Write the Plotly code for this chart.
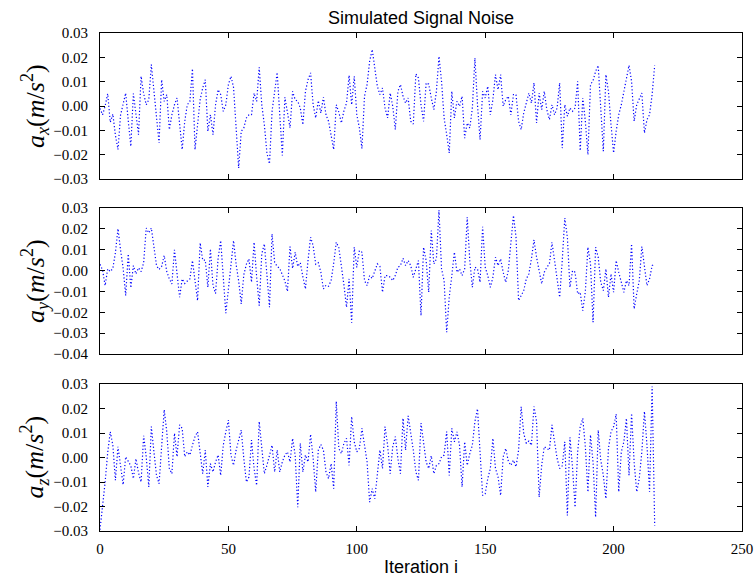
import plotly.graph_objects as go

# Acceleration noise samples (m/s^2), one value per iteration
ax_noise = [
    -0.0010, -0.0036, 0.0000, 0.0051, -0.0067, -0.0033, -0.0120, -0.0179, -0.0038, 0.0005,
    0.0053, -0.0060, -0.0166, 0.0051, -0.0040, -0.0118, 0.0122, 0.0051, 0.0005, 0.0026,
    0.0170, 0.0060, -0.0063, -0.0152, 0.0108, 0.0019, 0.0047, -0.0097, -0.0036, 0.0005,
    0.0033, -0.0063, -0.0179, -0.0063, 0.0005, 0.0019, 0.0153, -0.0179, -0.0077, 0.0026,
    0.0074, 0.0108, -0.0104, -0.0036, -0.0118, 0.0005, 0.0067, 0.0047, -0.0022, 0.0005,
    0.0088, 0.0122, 0.0077, -0.0077, -0.0255, -0.0104, -0.0090, -0.0049, -0.0036, -0.0036,
    0.0053, 0.0019, 0.0159, 0.0005, -0.0077, -0.0193, -0.0238, -0.0022, 0.0060, 0.0138,
    -0.0036, -0.0203, 0.0036, -0.0036, -0.0090, 0.0060, 0.0026, 0.0019, -0.0008, -0.0077,
    0.0060, 0.0108, 0.0136, 0.0005, -0.0049, 0.0022, -0.0029, 0.0036, -0.0036, -0.0063,
    -0.0118, -0.0179, 0.0005, -0.0025, -0.0070, -0.0019, 0.0012, 0.0126, 0.0005, 0.0122,
    -0.0036, -0.0090, -0.0175, 0.0040, 0.0088, 0.0184, 0.0232, 0.0163, 0.0081, 0.0047,
    0.0074, -0.0008, -0.0049, 0.0053, -0.0001, -0.0097, 0.0060, 0.0088, 0.0040, 0.0012,
    0.0033, -0.0063, -0.0074, 0.0132, 0.0115, 0.0005, -0.0063, 0.0095, 0.0090, 0.0033,
    -0.0015, 0.0060, 0.0204, 0.0101, -0.0049, -0.0118, -0.0193, 0.0060, -0.0049, 0.0019,
    -0.0001, 0.0040, -0.0132, -0.0070, -0.0090, -0.0008, 0.0197, 0.0005, -0.0138, 0.0060,
    0.0033, 0.0081, -0.0036, 0.0026, 0.0129, 0.0067, 0.0129, -0.0001, 0.0026, 0.0040,
    -0.0036, 0.0047, 0.0047, -0.0063, -0.0097, -0.0029, 0.0019, 0.0053, 0.0012, 0.0095,
    -0.0070, 0.0053, -0.0015, 0.0060, -0.0015, -0.0056, 0.0005, -0.0036, -0.0008, 0.0095,
    -0.0173, 0.0005, -0.0042, -0.0008, -0.0022, -0.0008, 0.0101, -0.0184, 0.0033, -0.0063,
    -0.0200, 0.0088, 0.0104, 0.0142, 0.0167, 0.0005, -0.0186, 0.0129, 0.0060, -0.0077,
    -0.0193, -0.0104, -0.0036, 0.0005, 0.0060, 0.0122, 0.0167, 0.0101, -0.0063, 0.0005,
    0.0026, 0.0053, -0.0111, -0.0056, -0.0036, 0.0047, 0.0167,
]

ay_noise = [
    0.0030, 0.0003, -0.0072, 0.0008, -0.0005, 0.0010, 0.0086, 0.0201, 0.0100, 0.0013,
    -0.0120, 0.0080, -0.0083, 0.0024, -0.0016, 0.0013, -0.0005, 0.0038, 0.0204, 0.0180,
    0.0204, 0.0110, 0.0024, 0.0005, 0.0020, 0.0072, -0.0005, -0.0040, -0.0064, 0.0099,
    -0.0032, -0.0128, -0.0040, -0.0062, -0.0050, -0.0040, 0.0048, -0.0040, -0.0144, 0.0133,
    0.0050, 0.0050, -0.0080, 0.0104, -0.0072, -0.0110, 0.0060, 0.0144, -0.0040, -0.0204,
    -0.0090, 0.0030, 0.0144, 0.0030, -0.0050, -0.0160, -0.0020, 0.0030, 0.0056, -0.0056,
    0.0136, -0.0030, -0.0168, 0.0080, 0.0128, -0.0020, -0.0176, 0.0176, 0.0040, 0.0020,
    0.0010, -0.0020, -0.0050, -0.0100, 0.0115, 0.0010, 0.0088, 0.0020, 0.0038, -0.0030,
    -0.0088, 0.0048, 0.0160, 0.0120, 0.0030, 0.0038, -0.0008, -0.0088, -0.0070, -0.0075,
    -0.0048, 0.0035, 0.0136, 0.0110, 0.0030, -0.0070, -0.0176, -0.0040, -0.0250, 0.0112,
    0.0015, 0.0096, 0.0088, -0.0048, -0.0072, -0.0024, -0.0038, 0.0000, 0.0032, 0.0020,
    -0.0104, -0.0024, -0.0024, -0.0032, -0.0048, -0.0024, 0.0016, 0.0024, 0.0059, 0.0024,
    0.0048, 0.0024, -0.0032, 0.0008, 0.0048, -0.0216, 0.0112, 0.0048, -0.0104, 0.0192,
    0.0032, 0.0056, 0.0290, 0.0008, -0.0048, -0.0296, -0.0128, -0.0024, 0.0088, -0.0008,
    0.0008, -0.0024, 0.0008, 0.0256, 0.0048, -0.0080, 0.0016, 0.0008, -0.0056, 0.0210,
    0.0016, -0.0024, -0.0080, -0.0032, 0.0064, 0.0024, 0.0056, -0.0008, -0.0056, 0.0000,
    0.0144, 0.0264, 0.0160, -0.0144, -0.0120, -0.0096, -0.0040, -0.0016, 0.0056, 0.0147,
    0.0064, 0.0008, -0.0064, -0.0008, 0.0016, 0.0032, 0.0136, 0.0048, -0.0050, -0.0128,
    0.0048, 0.0252, 0.0160, -0.0080, 0.0000, -0.0008, -0.0112, -0.0104, -0.0192, -0.0100,
    0.0112, 0.0032, -0.0248, 0.0112, 0.0064, -0.0056, -0.0096, 0.0008, -0.0128, -0.0016,
    -0.0104, 0.0048, -0.0008, -0.0064, -0.0104, -0.0048, -0.0072, 0.0128, -0.0184, -0.0112,
    -0.0048, 0.0115, 0.0032, -0.0072, -0.0040, 0.0024, 0.0032,
]

az_noise = [
    -0.0295, -0.0200, -0.0100, 0.0020, 0.0105, 0.0050, -0.0093, 0.0044, -0.0032, -0.0111,
    0.0003, -0.0018, -0.0034, -0.0086, -0.0005, -0.0062, -0.0100, 0.0089, 0.0003, -0.0120,
    0.0126, 0.0023, -0.0073, -0.0107, 0.0050, 0.0195, 0.0105, -0.0045, -0.0066, 0.0099,
    0.0003, 0.0133, 0.0119, 0.0003, 0.0023, 0.0010, 0.0050, 0.0085, 0.0105, 0.0030,
    -0.0066, 0.0030, -0.0120, -0.0025, -0.0059, -0.0018, 0.0010, -0.0073, 0.0050, 0.0105,
    0.0153, 0.0010, -0.0032, 0.0030, 0.0071, 0.0112, -0.0004, -0.0100, -0.0080, 0.0071,
    -0.0045, -0.0114, 0.0147, 0.0023, -0.0066, -0.0032, 0.0010, 0.0050, -0.0059, 0.0030,
    -0.0059, -0.0018, 0.0010, 0.0023, -0.0018, 0.0078, 0.0010, -0.0203, 0.0058, -0.0059,
    0.0010, -0.0018, 0.0095, -0.0004, -0.0141, 0.0030, 0.0053, 0.0030, -0.0059, -0.0086,
    -0.0025, -0.0127, 0.0229, 0.0037, 0.0016, 0.0058, 0.0078, -0.0032, 0.0167, 0.0064,
    0.0023, 0.0037, 0.0119, 0.0058, -0.0018, -0.0182, -0.0127, -0.0168, -0.0073, 0.0030,
    -0.0045, 0.0126, 0.0050, -0.0066, 0.0044, 0.0085, -0.0004, -0.0066, 0.0160, 0.0030,
    0.0170, 0.0105, 0.0030, -0.0059, -0.0093, 0.0140, 0.0064, -0.0018, -0.0045, 0.0007,
    -0.0066, -0.0032, -0.0025, 0.0003, 0.0010, 0.0106, -0.0073, 0.0119, 0.0064, 0.0105,
    0.0050, -0.0120, 0.0064, -0.0032, 0.0016, 0.0050, 0.0147, 0.0199, 0.0023, -0.0155,
    -0.0148, -0.0086, -0.0045, 0.0078, -0.0045, -0.0079, -0.0155, 0.0003, 0.0037, -0.0015,
    -0.0032, -0.0011, -0.0038, 0.0030, 0.0208, 0.0099, 0.0058, 0.0067, 0.0050, 0.0208,
    0.0147, -0.0162, -0.0032, 0.0044, 0.0037, 0.0030, 0.0133, 0.0064, -0.0004, -0.0045,
    -0.0034, 0.0064, -0.0237, 0.0082, -0.0040, -0.0203, 0.0023, 0.0126, 0.0160, 0.0044,
    -0.0141, 0.0092, -0.0020, -0.0244, 0.0112, -0.0010, -0.0073, -0.0168, 0.0037, 0.0105,
    0.0126, 0.0177, -0.0140, 0.0023, 0.0064, 0.0160, -0.0073, 0.0180, -0.0020, -0.0140,
    -0.0086, 0.0023, 0.0188, 0.0050, -0.0140, 0.0290, -0.0278,
]

iterations = list(range(len(ax_noise)))

y_labels = [
    "<i>a</i><sub><i>x</i></sub>(<i>m</i>/<i>s</i><sup>2</sup>)",
    "<i>a</i><sub><i>y</i></sub>(<i>m</i>/<i>s</i><sup>2</sup>)",
    "<i>a</i><sub><i>z</i></sub>(<i>m</i>/<i>s</i><sup>2</sup>)",
]
y_ranges = [(-0.03, 0.03), (-0.04, 0.03), (-0.03, 0.03)]
x_ticks = [0, 50, 100, 150, 200, 250]

W, H = 756, 579
ML, MR, MT, MB = 100, 14, 33, 48
plot_h = H - MT - MB

def dom(top_px, bot_px):
    return [(H - MB - bot_px) / plot_h, (H - MB - top_px) / plot_h]

domains = [dom(33, 179), dom(208, 354), dom(384, 531)]

tick_font = dict(family="Liberation Serif, DejaVu Serif, serif", size=15, color="black")

fig = go.Figure()
series = [ax_noise, ay_noise, az_noise]
layout = {}
annotations = []
for k, vals in enumerate(series):
    n = "" if k == 0 else str(k + 1)
    fig.add_trace(go.Scatter(
        x=iterations, y=vals, mode="lines",
        line=dict(color="#0000ff", width=1.2, dash="1.2px,2.2px"),
        xaxis="x" + n, yaxis="y" + n, showlegend=False,
    ))
    layout["xaxis" + n] = dict(
        domain=[0, 1], anchor="y" + n, range=[0, 250],
        tickvals=x_ticks, showticklabels=(k == 2),
        ticks="inside", ticklen=5, tickwidth=1, tickcolor="black",
        showline=True, linecolor="black", linewidth=1, mirror="ticks",
        showgrid=False, zeroline=False, tickfont=tick_font,
        ticklabelstandoff=4, automargin=False,
    )
    lo, hi = y_ranges[k]
    layout["yaxis" + n] = dict(
        domain=domains[k], anchor="x" + n, range=[lo, hi],
        dtick=0.01, tick0=0, tickformat=".2f",
        ticks="inside", ticklen=5, tickwidth=1, tickcolor="black",
        showline=True, linecolor="black", linewidth=1, mirror="ticks",
        showgrid=False, zeroline=False, tickfont=tick_font,
        ticklabelstandoff=8, automargin=False,
    )
    annotations.append(dict(
        text=y_labels[k], xref="paper", yref="paper",
        x=(35 - ML) / (W - ML - MR), y=sum(domains[k]) / 2,
        xanchor="center", yanchor="middle", textangle=-90, showarrow=False,
        font=dict(family="Liberation Serif, DejaVu Serif, serif", size=26, color="black"),
    ))

annotations.append(dict(
    text="Simulated Signal Noise", xref="paper", yref="paper",
    x=0.5, y=1, yshift=3, xanchor="center", yanchor="bottom", showarrow=False,
    font=dict(family="Liberation Sans, Arial, sans-serif", size=18, color="black"),
))
annotations.append(dict(
    text="Iteration i", xref="paper", yref="paper",
    x=0.5, y=0, yshift=-24, xanchor="center", yanchor="top", showarrow=False,
    font=dict(family="Liberation Sans, Arial, sans-serif", size=18, color="black"),
))

fig.update_layout(
    width=W, height=H,
    margin=dict(l=ML, r=MR, t=MT, b=MB, autoexpand=False),
    paper_bgcolor="white", plot_bgcolor="white",
    annotations=annotations,
    **layout,
)

fig.write_html("out.html", include_plotlyjs=True, full_html=True,
               config={"displayModeBar": False})
